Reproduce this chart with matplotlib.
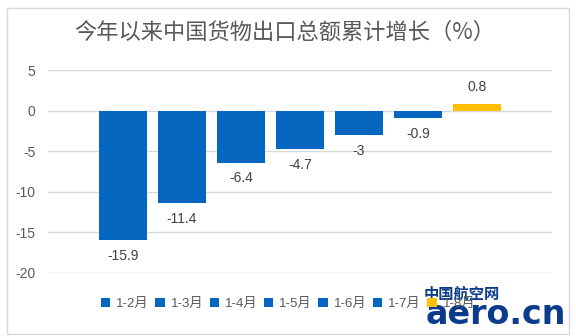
import matplotlib
matplotlib.use("Agg")
import matplotlib.pyplot as plt
from matplotlib.patches import Rectangle

plt.rcParams['font.family'] = ['Liberation Sans', 'Noto Sans CJK SC', 'DejaVu Sans']

title = "今年以来中国货物出口总额累计增长（%）"
periods = ["1-2月", "1-3月", "1-4月", "1-5月", "1-6月", "1-7月", "1-8月"]
values = [-15.9, -11.4, -6.4, -4.7, -3, -0.9, 0.8]
labels = ["-15.9", "-11.4", "-6.4", "-4.7", "-3", "-0.9", "0.8"]
colors = ["#0466BE"] * 6 + ["#FFC000"]
yticks = [5, 0, -5, -10, -15, -20]

W, H = 576, 336
fig = plt.figure(figsize=(W / 100, H / 100), dpi=100)
fig.patch.set_facecolor("white")

# outer chart border
fig.patches.append(Rectangle((7 / W, 1 - 334 / H), (569 - 7) / W, (334 - 8) / H,
                             transform=fig.transFigure, fill=False,
                             edgecolor="#D9D9D9", linewidth=1))

ax = fig.add_axes([48 / W, 1 - 273 / H, (552 - 48) / W, (273 - 70) / H])
for i, (p, v, c, lab) in enumerate(zip(periods, values, colors, labels)):
    ax.bar(i, v, width=0.8, color=c, label=p, zorder=3)
    if v < 0:
        ax.text(i, v - 1.1, lab, ha="center", va="top", fontsize=10, color="#404040")
    else:
        ax.text(i, v + 1.3, lab, ha="center", va="bottom", fontsize=10, color="#404040")

ax.set_xlim(-1.27, 7.27)
ax.set_ylim(-20, 5)
ax.set_yticks(yticks)
ax.set_yticklabels([str(t) for t in yticks], fontsize=10, color="#595959")
ax.set_xticks([])
ax.grid(axis="y", color="#D9D9D9", linewidth=1, zorder=0)
for s in ax.spines.values():
    s.set_visible(False)
ax.tick_params(axis="y", length=0, pad=9)

fig.text(285 / W, 1 - 32 / H, title, ha="center", va="center", fontsize=16,
         color="#595959", family=["Noto Sans CJK SC", "DejaVu Sans"])

leg = fig.legend(loc="center", bbox_to_anchor=(288 / W, 1 - 304 / H), ncol=7, frameon=False,
                 fontsize=9.5, handlelength=0.7, handleheight=0.7, handletextpad=0.45,
                 columnspacing=0.5, labelcolor="#595959")

# watermark
fig.text(462 / W, 1 - 294 / H, "中国航空网", ha="center", va="center", fontsize=11,
         color="#0B3C8C", fontweight="bold", family=["Noto Sans CJK SC"])
fig.text(496 / W, 1 - 314 / H, "aero.cn", ha="center", va="center", fontsize=24,
         color="#0B3C8C", fontweight="bold", family="DejaVu Sans")

fig.savefig("out.png", dpi=100)
